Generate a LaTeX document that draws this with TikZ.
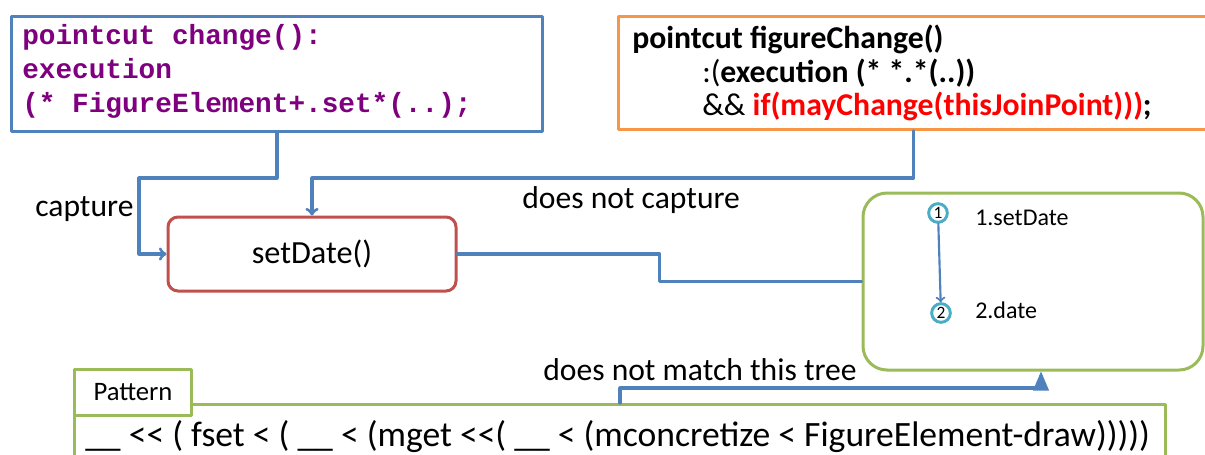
\documentclass[tikz,border=0pt]{standalone}
\usepackage{fontspec}
\setmainfont{Carlito}
\newfontfamily\codefont{Liberation Mono}
\usetikzlibrary{arrows}
\definecolor{boxblue}{RGB}{79,129,189}
\definecolor{boxorange}{RGB}{247,150,70}
\definecolor{boxred}{RGB}{192,80,77}
\definecolor{boxgreen}{RGB}{155,187,89}
\definecolor{circcyan}{RGB}{75,172,198}
\definecolor{codepurple}{RGB}{127,0,127}

\begin{document}
\begin{tikzpicture}[x=0.75pt, y=-0.75pt, line cap=round, line join=round, >=to,
    conn/.style={draw=boxblue, line width=2.4pt},
    frame/.style={line width=2.25pt, anchor=north west, inner sep=0pt},
    codeline/.style={anchor=base west, inner sep=0pt, text=codepurple, font=\codefont\bfseries\fontsize{20.8}{25}\selectfont},
    figline/.style={anchor=base west, inner sep=0pt, font=\fontsize{23.8}{28}\selectfont},
    tag/.style={anchor=base west, inner sep=0pt, font=\fontsize{23.7}{28}\selectfont},
    joinpt/.style={circle, draw=circcyan, line width=2.2pt, minimum size=14pt, inner sep=0pt, font=\fontsize{13}{14}\selectfont}]
    \useasboundingbox (0,0) rectangle (1205,454);
    \clip (0,0) rectangle (1205,454);
    % pointcut boxes
    \node[frame, draw=boxblue, minimum width=398.25pt, minimum height=86.25pt] (change) at (10,15) {};
    \node[codeline] (code1) at (22,44) {pointcut change():};
    \node[codeline] (code2) at (22,78) {execution};
    \node[codeline] (code3) at (22,112) {(* FigureElement+.set*(..);};
    \node[frame, draw=boxorange, minimum width=442.5pt, minimum height=84.75pt] (figure) at (617,15) {};
    \node[figline] (fig1) at (632,48) {\bfseries pointcut figureChange()};
    \node[figline] (fig2) at (702,82) {:(\textbf{execution (* *.*(..))}};
    \node[figline] (fig3) at (702,115) {\&\& \textbf{\textcolor{red}{if(mayChange(thisJoinPoint)))};}};
    % join point and tree
    \node[draw=boxred, line width=2.25pt, rounded corners=7.5pt, minimum width=216pt, minimum height=55.5pt, font=\fontsize{24.2}{28}\selectfont] (setdate) at (312,254) {setDate()};
    \node[draw=boxgreen, line width=2.25pt, rounded corners=18pt, minimum width=255pt, minimum height=132.75pt] (tree) at (1033,281.5) {};
    \node[joinpt] (c1) at (938,213) {1};
    \node[joinpt] (c2) at (941,313) {2};
    \node[anchor=base west, inner sep=0pt, font=\fontsize{18}{21}\selectfont] (t1) at (975,225) {1.setDate};
    \node[anchor=base west, inner sep=0pt, font=\fontsize{18}{21}\selectfont] (t2) at (975,318) {2.date};
    % pattern
    \node[frame, draw=boxgreen, minimum width=818.25pt, minimum height=75pt] (pattern) at (73,403) {};
    \node[frame, draw=boxgreen, fill=white, minimum width=87.75pt, minimum height=34.5pt, font=\fontsize{20}{23}\selectfont] (tab) at (73,368) {Pattern};
    \node[anchor=base west, inner sep=0pt, font=\fontsize{26.7}{30}\selectfont] (expr) at (85,446) {\_\_ <{}< ( fset < ( \_\_ < (mget <{}<( \_\_ < (mconcretize < FigureElement-draw)))))};
    % labels
    \node[tag] (lcap) at (35,216) {capture};
    \node[tag] (lnocap) at (522,208) {does not capture};
    \node[tag] (lnomatch) at (543,380) {does not match this tree};
    % connectors
    \draw[conn,->] (change.south) -- ++(0,45) -- ++(-138,0) |- (setdate.west);
    \draw[conn,->] (figure.south) -- ++(0,47) -| (setdate.north);
    \draw[conn] (setdate.east) -- ++(202,0) |- (tree.west);
    \draw[conn,->,line width=1.6pt] (c1) -- (c2);
    \draw[conn,-triangle 45] (pattern.north) -- ++(0,-15) -| ([xshift=6pt]tree.south);
\end{tikzpicture}
\end{document}
